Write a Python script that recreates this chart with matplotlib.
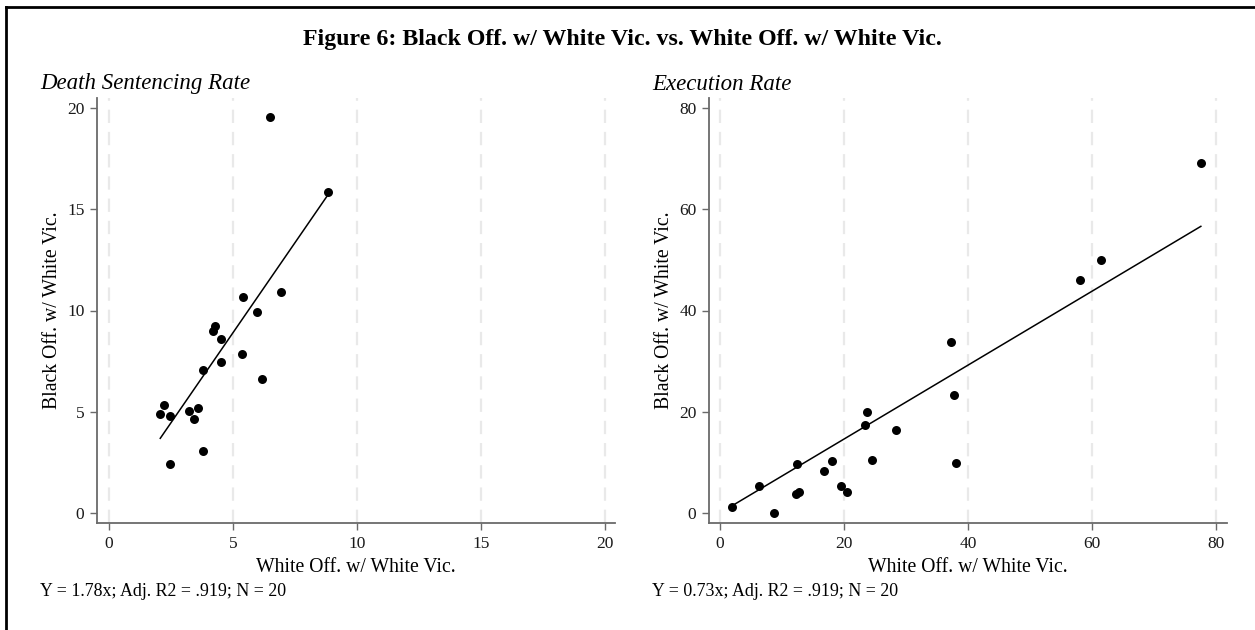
import numpy as np
import matplotlib.pyplot as plt
from matplotlib.lines import Line2D

plt.rcParams['font.family'] = ['Liberation Serif', 'DejaVu Serif']

# death sentencing rates (white offender / black offender, white victim)
ds_white = [6.48, 8.84, 6.95, 5.41, 5.98, 4.28, 4.20, 4.51, 5.37, 4.51,
            3.78, 6.18, 2.23, 2.07, 2.45, 3.23, 3.58, 3.43, 3.80, 2.48]
ds_black = [19.56, 15.87, 10.91, 10.65, 9.93, 9.23, 9.00, 8.59, 7.85, 7.44,
            7.05, 6.62, 5.35, 4.89, 4.79, 5.05, 5.17, 4.63, 3.08, 2.44]
ds_slope = 1.78

# execution rates
ex_white = [1.88, 6.34, 8.71, 12.37, 12.20, 12.69, 16.77, 18.01, 19.57, 20.43,
            23.66, 23.44, 24.57, 28.33, 37.20, 37.69, 38.06, 58.06, 61.50, 77.58]
ex_black = [1.13, 5.41, 0.00, 9.57, 3.70, 4.09, 8.25, 10.17, 5.41, 4.16,
            19.92, 17.41, 10.49, 16.36, 33.83, 23.28, 9.90, 46.09, 49.99, 69.18]
ex_slope = 0.73

panels = [
    dict(x=ds_white, y=ds_black, b=ds_slope, title='Death Sentencing Rate',
         ticks=[0, 5, 10, 15, 20], xlim=(-0.48, 20.4), ylim=(-0.5, 20.5),
         note='Y = 1.78x; Adj. R2 = .919; N = 20',
         rect=[97/1255, 1-523/630, 518/1255, 425/630]),
    dict(x=ex_white, y=ex_black, b=ex_slope, title='Execution Rate',
         ticks=[0, 20, 40, 60, 80], xlim=(-1.8, 81.8), ylim=(-2.0, 82.0),
         note='Y = 0.73x; Adj. R2 = .919; N = 20',
         rect=[709/1255, 1-523/630, 518/1255, 425/630]),
]

fig = plt.figure(figsize=(12.55, 6.3), dpi=100)

for p in panels:
    ax = fig.add_axes(p['rect'])
    x = np.array(p['x'])
    y = np.array(p['y'])
    for t in p['ticks']:
        ax.axvline(t, color='#e9e9e9', lw=1.6, ls=(0, (6, 4)), zorder=0)
    xs = np.array([x.min(), x.max()])
    ax.plot(xs, p['b'] * xs, color='black', lw=1.1, zorder=2)
    ax.scatter(x, y, s=42, color='black', zorder=3, linewidths=0)
    ax.set_xlim(p['xlim'])
    ax.set_ylim(p['ylim'])
    ax.set_xticks(p['ticks'])
    ax.set_yticks(p['ticks'])
    for s in ['top', 'right']:
        ax.spines[s].set_visible(False)
    for s in ['left', 'bottom']:
        ax.spines[s].set_color('#6a6a6a')
        ax.spines[s].set_linewidth(1.3)
    ax.tick_params(direction='out', length=5, width=1, color='#6a6a6a',
                   labelsize=12.5, labelcolor='#1a1a1a', pad=4)
    ax.set_xlabel('White Off. w/ White Vic.', fontsize=14.2, labelpad=5)
    ax.set_ylabel('Black Off. w/ White Vic.', fontsize=14.2, labelpad=4)
    x0 = p['rect'][0]
    fig.text(x0 - 57/1255, 1 - 84/630, p['title'], fontsize=16.5, style='italic',
             va='center', ha='left')
    fig.text(x0 - 57/1255, 1 - 591/630, p['note'], fontsize=12.9,
             va='center', ha='left')

fig.text(622/1255, 1 - 39/630,
         'Figure 6: Black Off. w/ White Vic. vs. White Off. w/ White Vic.',
         fontsize=17.2, fontweight='bold', ha='center', va='center')

# outer frame (top and left edges)
fig.add_artist(Line2D([6/1255, 1], [1 - 7/630, 1 - 7/630], color='black', lw=2,
                      transform=fig.transFigure))
fig.add_artist(Line2D([6/1255, 6/1255], [0, 1 - 7/630], color='black', lw=2,
                      transform=fig.transFigure))

fig.savefig('out.png', dpi=100, facecolor='white')
